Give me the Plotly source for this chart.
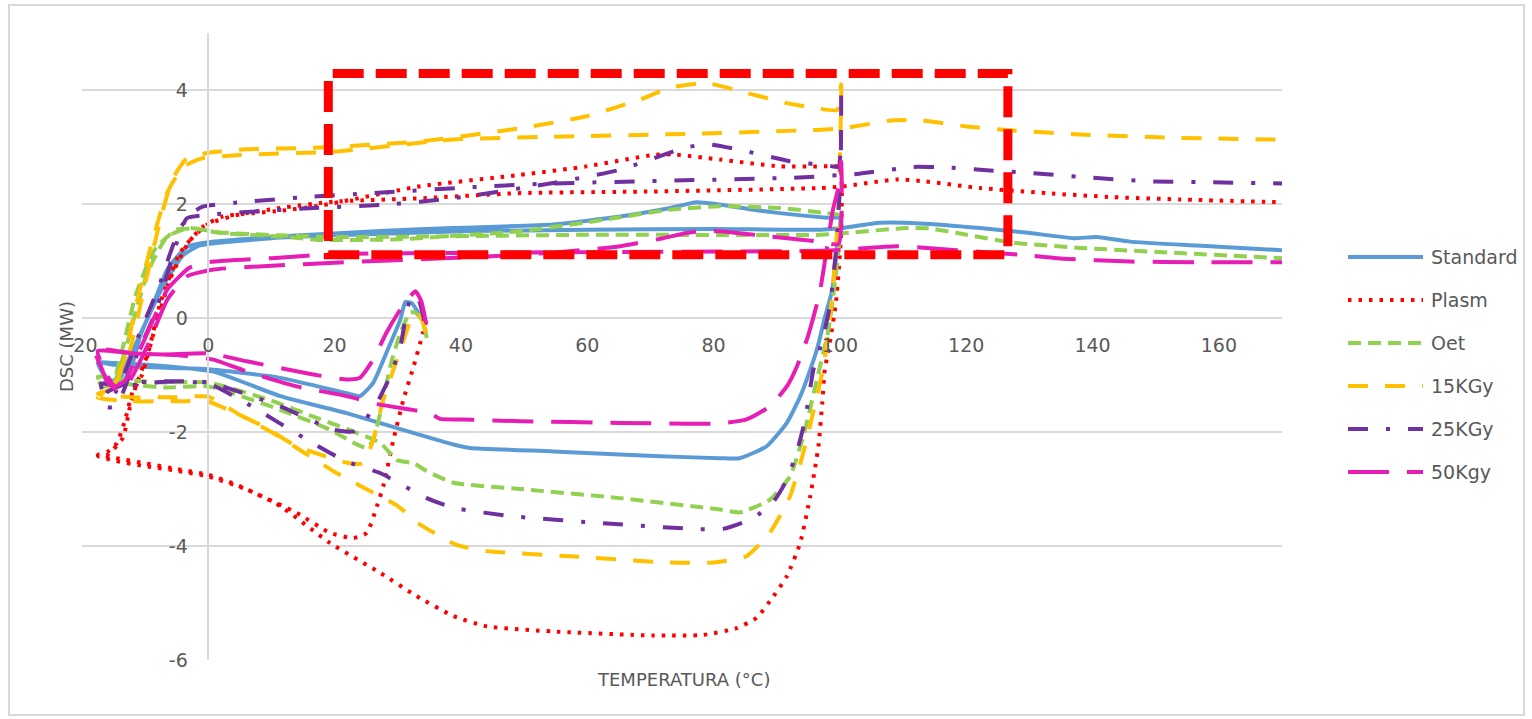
import plotly.graph_objects as go

# ---------------- data: DSC runs (temperature in °C, heat flow in MW) ----------------
STANDARD_T = [34.0, 32.2, 31.2, 30.4, 28.2, 26.1, 24.0, 21.9, 11.4, 0.0, -5, -10, -15, -17.5,
              -16.5, -15, -13.5, -12, -10.8, -8.5, -6.5, -3.4, 0, 10, 17.7, 28, 38.8, 54.6, 65.2, 73.1, 77.3,
              80.4, 86.3, 90.5, 97.9, 100,
              99.5, 98.8, 97.6, 96.5, 95.3, 93.7, 91.6, 88.4, 84.1, 81, 70.5, 54.6, 41.4, 38.8, 33.5, 21.9,
              11.4, 0.8, -9.8, -15, -17.5,
              -16.8, -15.5, -14, -12.5, -10, -7, -4, -1.5, 0, 10, 20, 40, 60, 80, 97, 100.5, 106.3, 112.7,
              122.2, 130.1, 137, 140.7, 145.9, 156.5, 170]
STANDARD_DSC = [-0.05, 0.26, 0.28, -0.03, -0.61, -1.14, -1.37, -1.32, -1.05, -0.9, -0.88, -0.86, -0.82, -0.78,
                -1.0, -1.12, -1.1, -0.8, -0.32, 0.3, 0.85, 1.25, 1.33, 1.42, 1.47, 1.53, 1.58, 1.64, 1.78, 1.93, 2.03,
                2.0, 1.9, 1.84, 1.76, 1.75,
                1.2, 0.5, 0.0, -0.5, -0.91, -1.38, -1.84, -2.25, -2.46, -2.46, -2.42, -2.34, -2.28, -2.22, -2.05, -1.67,
                -1.37, -0.94, -0.82, -0.79, -0.78,
                -0.95, -1.1, -1.05, -0.7, -0.1, 0.6, 1.1, 1.27, 1.3, 1.4, 1.45, 1.52, 1.55, 1.56, 1.55, 1.58, 1.67, 1.66,
                1.58, 1.49, 1.40, 1.42, 1.34, 1.27, 1.19]

PLASM_T = [34.5, 34.0, 32.5, 30.9, 29.3, 27.7, 26.7, 25.1, 23, 19.3, 14, 6.1, 0, -5, -10, -15, -17.5,
           -16, -13.5, -12.5, -11.5, -9.5, -7.6, -4.5, -0.9, 2.3, 11.4, 17.7, 33.5, 49.3, 59.9, 70.4, 73.5, 81,
           90.5, 98.4, 100,
           100.2, 99.4, 98.3, 97.6, 97.2, 96.6, 95.3, 93.7, 91.6, 89.5, 86.8, 83.7, 78.4, 70.5, 54.6, 44.1, 38.8,
           33, 27.2, 19.3, 11.4, 5, 0, -5, -10, -15, -17.5,
           -16, -14.5, -13.2, -12, -10.5, -8.5, -6, -3, 0, 5, 11.4, 19.7, 33.5, 49, 70.4, 96.9, 100.5, 109, 113.2,
           122.2, 132.7, 143.3, 153.8, 170]
PLASM_DSC = [-0.05, -0.26, -0.85, -1.43, -2.14, -2.95, -3.3, -3.77, -3.86, -3.77, -3.42, -3.01, -2.78, -2.68, -2.6,
             -2.5, -2.42,
             -2.4, -2.1, -1.6, -1.2, -0.6, 0.27, 1.14, 1.6, 1.78, 1.88, 1.97, 2.31, 2.51, 2.66, 2.86, 2.87, 2.78,
             2.66, 2.66, 2.65,
             1.5, 0.3, -0.5, -0.91, -1.5, -2.25, -3.13, -3.95, -4.53, -4.88, -5.26, -5.44, -5.56, -5.57, -5.5, -5.41,
             -5.23, -4.88, -4.47, -3.95, -3.3, -2.95, -2.75, -2.65, -2.55, -2.45, -2.4,
             -2.35, -2.2, -1.8, -1.3, -1.0, -0.2, 0.7, 1.35, 1.65, 1.82, 1.93, 2.04, 2.1, 2.19, 2.22, 2.28, 2.31,
             2.43, 2.40, 2.28, 2.19, 2.12, 2.08, 2.03]

OET_T = [34.6, 33.8, 32.7, 31.9, 30.4, 28.8, 27.7, 26.1, 25.1, 23, 19.3, 11.4, 0, -7, -12, -17.5,
         -16.5, -15, -13.5, -12, -9.6, -6.5, -2.9, 1.9, 11.4, 17.7, 30, 40, 49.3, 62.5, 73, 81, 90.5, 97.9, 100,
         99.6, 98.2, 96.1, 94.2, 92.1, 88.9, 84.2, 81, 65.2, 49.4, 38.8, 34.5, 32.5, 29.8, 27.2, 16.6, 10, 0, -7,
         -12, -17.5,
         -16.5, -15, -13.5, -11.5, -8.5, -5, -2, 2, 11.4, 20, 35, 60, 97, 101, 110.6, 114.4, 120.1, 127.5, 138,
         153.8, 170]
OET_DSC = [-0.35, -0.03, 0.1, 0.09, -0.26, -0.85, -1.43, -2.14, -2.28, -2.19, -1.96, -1.61, -1.2, -1.22, -1.17, -1.1,
           -1.2, -1.15, -0.7, -0.1, 0.8, 1.43, 1.58, 1.49, 1.43, 1.37, 1.38, 1.45, 1.52, 1.72, 1.9, 1.96, 1.93, 1.84,
           1.8,
           1.0, -0.2, -1.2, -2.08, -2.78, -3.19, -3.41, -3.36, -3.16, -3.0, -2.89, -2.68, -2.55, -2.49, -2.19, -1.73,
           -1.45, -1.13, -1.13, -1.1, -1.03,
           -1.2, -1.1, -0.5, 0.4, 1.2, 1.55, 1.56, 1.5, 1.45, 1.42, 1.43, 1.46, 1.46, 1.49, 1.58, 1.57, 1.46, 1.32,
           1.23, 1.14, 1.05]

KGY15_T = [34.5, 33.2, 32.2, 30.4, 27.7, 26.1, 24.5, 22, 14, 8.7, 0, -4.5, -12.4, -17.5,
           -16, -14.5, -12.4, -10, -7.6, -5.7, -3.4, 0, 6, 17.7, 33.7, 49.4, 59.9, 68.3, 73.1, 78.9, 85.2, 91.6,
           96.3, 99.6, 100.2,
           100.1, 99.6, 98.7, 97.5, 96.1, 94.2, 92.1, 88.9, 85.2, 80, 73.1, 57.3, 44.1, 39.3, 33.5, 30, 25, 20, 15,
           10, 5, 0, -5, -12, -17.5,
           -15.5, -13.5, -11.5, -9, -6.5, -4, -1, 5, 20, 38.8, 54.6, 75.7, 96.3, 100.5, 108.5, 112.7, 120.1, 127.4,
           138, 153.8, 170]
KGY15_DSC = [-0.25, 0.1, 0.0, -0.56, -1.43, -2.14, -2.55, -2.54, -2.25, -1.9, -1.47, -1.46, -1.46, -1.4,
             -1.3, -1.1, -0.55, 0.6, 1.72, 2.43, 2.8, 2.9, 2.96, 2.99, 3.1, 3.33, 3.54, 3.83, 4.04, 4.12, 3.95, 3.77,
             3.68, 3.65, 4.1,
             3.3, 1.6, 0.3, -0.8, -1.5, -2.37, -3.13, -3.77, -4.18, -4.29, -4.29, -4.18, -4.09, -3.98, -3.62, -3.3,
             -3.0, -2.7, -2.35, -2.0, -1.7, -1.38, -1.39, -1.39, -1.33,
             -1.25, -0.8, 0.2, 1.3, 2.2, 2.65, 2.8, 2.86, 2.92, 3.13, 3.18, 3.23, 3.30, 3.33, 3.47, 3.47, 3.36, 3.29,
             3.22, 3.16, 3.13]

KGY25_T = [34.2, 33.2, 32.3, 31.6, 30.4, 28.8, 26.7, 24.5, 23, 19.8, 11.4, 0, -7, -13, -16, -16.8,
           -16, -14.8, -13.5, -11.5, -8.4, -5, -3.4, 0, 6.1, 16.6, 28.2, 38.8, 54.6, 65.2, 75.2, 79, 84.2, 92.1,
           98.4, 99.8, 100.2,
           100.1, 99.4, 98.4, 97.2, 95.8, 94.5, 93.2, 91.6, 89.5, 86.3, 81.5, 76.8, 62.5, 48.3, 38.8, 34.6, 32.5,
           27.2, 21.9, 16.6, 6.1, 0, -7, -14, -17,
           -16.5, -15, -13, -11, -8, -5.5, -3.5, -1, 6.1, 16.6, 25.6, 44.1, 54.6, 73.1, 92.6, 100.5, 103, 111.6,
           116.9, 122.2, 130.6, 140.1, 148.6, 159, 170]
KGY25_DSC = [-0.05, 0.35, 0.4, 0.2, -0.5, -1.02, -1.49, -1.84, -1.99, -1.96, -1.55, -1.13, -1.11, -1.15, -1.3, -1.45,
             -1.57, -1.55, -1.3, -0.7, 0.09, 1.32, 1.75, 1.81, 1.86, 1.93, 1.99, 2.1, 2.37, 2.6, 2.98, 3.05, 2.95, 2.75,
             2.67, 2.65, 3.95,
             2.5, 1.2, 0.2, -0.4, -0.91, -1.78, -2.34, -2.84, -3.22, -3.51, -3.70, -3.70, -3.6, -3.48, -3.33, -3.16,
             -3.04, -2.72, -2.52, -2.2, -1.5, -1.15, -1.12, -1.2, -1.15,
             -1.35, -1.35, -0.9, -0.3, 0.5, 1.3, 1.75, 1.95, 2.04, 2.13, 2.19, 2.31, 2.36, 2.41, 2.46, 2.51, 2.53,
             2.65, 2.64, 2.6, 2.54, 2.46, 2.40, 2.38, 2.36]

KGY50_T = [34.5, 33.7, 32.8, 31.6, 30.4, 28.2, 26.1, 24, 21.9, 16.6, 6.1, 0, -7.1, -12, -18,
           -17, -16, -14.5, -13, -11, -9.2, -6.5, -3.4, 0.8, 8.7, 20, 44, 55, 65.2, 72, 75.7, 78.9, 83, 88.9, 96.8,
           99.8, 100.2,
           99.8, 98.9, 96.8, 95, 93.2, 91.6, 88.9, 85.2, 81, 65.2, 49.4, 39.9, 36.7, 35.1, 27.2, 21.9, 14, 6.1, 0.8,
           -5, -12, -17.5,
           -16.3, -14.8, -13.2, -11, -9, -6.5, -3, 0, 10, 20, 50, 97, 101, 109, 118.5, 128.5, 135.4, 145.9, 156.5,
           170]
KGY50_DSC = [-0.1, 0.3, 0.47, 0.33, 0.15, -0.26, -0.73, -1.05, -1.08, -0.99, -0.76, -0.62, -0.64, -0.62, -0.55,
             -0.85, -1.12, -1.26, -1.2, -0.8, -0.38, 0.32, 0.73, 0.85, 0.91, 0.97, 1.08, 1.15, 1.26, 1.4, 1.49, 1.53,
             1.5, 1.43, 1.34, 1.3, 2.75,
             2.3, 1.9, 0.44, -0.3, -0.85, -1.2, -1.55, -1.78, -1.85, -1.84, -1.81, -1.78, -1.77, -1.67, -1.52, -1.37,
             -1.2, -0.94, -0.73, -0.65, -0.62, -0.58,
             -0.95, -1.2, -1.1, -0.6, -0.1, 0.5, 0.88, 0.98, 1.05, 1.12, 1.15, 1.18, 1.2, 1.26, 1.19, 1.11, 1.04, 0.99,
             0.98, 0.98]

SERIES_NAMES = ["Standard", "Plasm", "Oet", "15KGy", "25KGy", "50Kgy"]
X_TICKS = [-20, 0, 20, 40, 60, 80, 100, 120, 140, 160]
Y_TICKS = [-6, -4, -2, 0, 2, 4]

# ---------------- styling ----------------
STYLES = {
    "Standard": dict(color="#5B9BD5", dash="solid"),
    "Plasm": dict(color="#FF0000", dash="3.5px,7px"),
    "Oet": dict(color="#92D050", dash="13px,7px"),
    "15KGy": dict(color="#FFC000", dash="20px,17px"),
    "25KGy": dict(color="#7030A0", dash="20px,18px,4px,18px"),
    "50Kgy": dict(color="#E61EB4", dash="41px,18px"),
}
LINE_W = 4
TEXT_COLOR = "#595959"
GRID_COLOR = "#D9D9D9"
FONT = "DejaVu Sans"

W, H = 1532, 719
ML, MR, MT, MB = 82, 250, 33, 59
X_RANGE = [-20, 170]
Y_RANGE = [-6, 5]
PW, PH = W - ML - MR, H - MT - MB


def px_to_paper_x(px):
    return (px - ML) / PW


def py_to_paper_y(py):
    return (H - MB - py) / PH


def tick_text(v):
    # plain hyphen for negatives
    return str(v)


series = {
    "Standard": (STANDARD_T, STANDARD_DSC),
    "Plasm": (PLASM_T, PLASM_DSC),
    "Oet": (OET_T, OET_DSC),
    "15KGy": (KGY15_T, KGY15_DSC),
    "25KGy": (KGY25_T, KGY25_DSC),
    "50Kgy": (KGY50_T, KGY50_DSC),
}

fig = go.Figure()
for name in SERIES_NAMES:
    t, dsc = series[name]
    st = STYLES[name]
    fig.add_trace(go.Scatter(
        x=t, y=dsc, mode="lines", name=name, showlegend=False,
        line=dict(color=st["color"], width=LINE_W, dash=st["dash"], shape="spline", smoothing=0.5),
    ))

shapes = []
annotations = []

# legend drawn at the right: long line samples with labels
LEGEND_ROWS_PY = [257, 300, 343, 386, 429, 472]
for name, py in zip(SERIES_NAMES, LEGEND_ROWS_PY):
    st = STYLES[name]
    yy = py_to_paper_y(py)
    shapes.append(dict(type="line", xref="paper", yref="paper",
                       x0=px_to_paper_x(1348), x1=px_to_paper_x(1423), y0=yy, y1=yy,
                       line=dict(color=st["color"], width=LINE_W, dash=st["dash"])))
    annotations.append(dict(text=name, xref="paper", yref="paper", x=px_to_paper_x(1429), y=yy,
                            xanchor="left", yanchor="middle", showarrow=False,
                            font=dict(family=FONT, size=19, color=TEXT_COLOR)))

# highlighted region (red dashed frame)
shapes.append(dict(type="rect", xref="x", yref="y", x0=19.0, x1=126.6, y0=1.11, y1=4.29,
                   line=dict(color="#FF0000", width=9, dash="31px,12px"), layer="above"))

# chart border
shapes.append(dict(type="rect", xref="paper", yref="paper",
                   x0=px_to_paper_x(9), x1=px_to_paper_x(1524), y0=py_to_paper_y(715), y1=py_to_paper_y(5),
                   line=dict(color=GRID_COLOR, width=2), layer="below"))

# axis titles
annotations.append(dict(text="TEMPERATURA (°C)", xref="paper", yref="paper",
                        x=px_to_paper_x(683), y=py_to_paper_y(679), xanchor="center", yanchor="middle",
                        showarrow=False, font=dict(family=FONT, size=18, color=TEXT_COLOR)))
annotations.append(dict(text="DSC (MW)", xref="paper", yref="paper",
                        x=px_to_paper_x(66), y=py_to_paper_y(347), xanchor="center", yanchor="middle",
                        textangle=-90, showarrow=False, font=dict(family=FONT, size=18, color=TEXT_COLOR)))

x_cross = (0 - Y_RANGE[0]) / (Y_RANGE[1] - Y_RANGE[0])
y_cross = (0 - X_RANGE[0]) / (X_RANGE[1] - X_RANGE[0])

fig.update_layout(
    width=W, height=H,
    margin=dict(l=ML, r=MR, t=MT, b=MB, pad=0),
    paper_bgcolor="white", plot_bgcolor="white",
    font=dict(family=FONT, color=TEXT_COLOR),
    shapes=shapes, annotations=annotations,
    xaxis=dict(range=X_RANGE, tickvals=X_TICKS, ticktext=[tick_text(v) for v in X_TICKS],
               showgrid=False, zeroline=False,
               anchor="free", position=x_cross, showline=False, ticks="",
               ticklabelstandoff=14, tickfont=dict(family=FONT, size=19, color=TEXT_COLOR)),
    yaxis=dict(range=Y_RANGE, tickvals=Y_TICKS, ticktext=[tick_text(v) for v in Y_TICKS],
               showgrid=True, gridcolor=GRID_COLOR, gridwidth=1.5,
               zeroline=False, anchor="free", position=y_cross, showline=True, linecolor=GRID_COLOR,
               linewidth=1.5, ticks="", ticklabelstandoff=16,
               tickfont=dict(family=FONT, size=19, color=TEXT_COLOR)),
    showlegend=False,
)

fig.write_html("out.html")
